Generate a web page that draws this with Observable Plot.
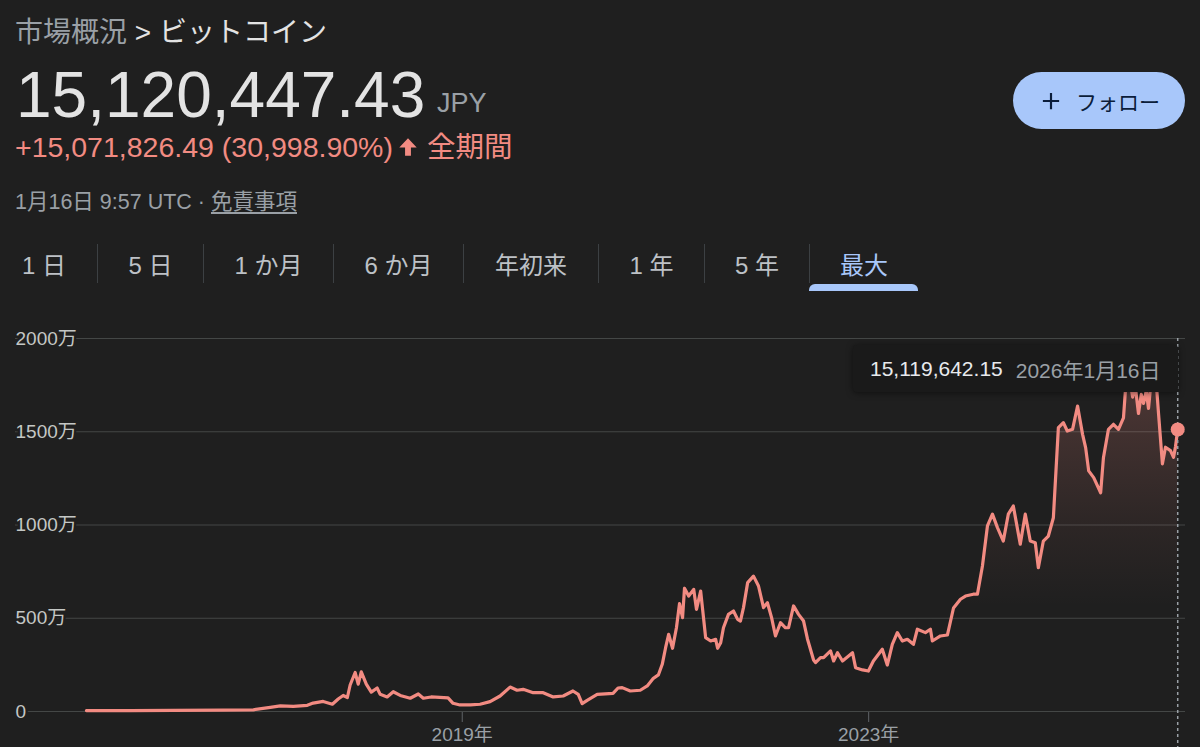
<!DOCTYPE html>
<html lang="ja">
<head>
<meta charset="utf-8">
<script src="https://cdn.jsdelivr.net/npm/d3@7"></script>
<script src="https://cdn.jsdelivr.net/npm/@observablehq/plot@0.6"></script>
<style>
html, body { margin:0; padding:0; background:#1f1f1f; }
body { width:1200px; height:747px; position:relative; overflow:hidden;
  font-family:"Liberation Sans", Arial, "Noto Sans CJK JP", sans-serif; color:#e3e3e3; }
.abs { position:absolute; white-space:nowrap; }
#crumb { left:15px; top:19px; font-size:28px; line-height:28px; color:#e3e3e3; }
#crumb .muted { color:#9aa0a6; }
#price { left:16px; top:63px; font-size:64px; line-height:64px; color:#e3e3e3; }
#cur { left:437px; top:90px; font-size:27px; line-height:27px; color:#9aa0a6; }
#change { left:15px; top:133px; font-size:28.5px; line-height:28.5px; color:#f28b82; display:flex; align-items:center; }
#change svg { margin:0 8px 0 4px; }
#stamp { left:15px; top:192px; font-size:21.5px; line-height:21.5px; color:#9aa0a6; }
#stamp u { text-underline-offset:3px; }
#follow { left:1013px; top:72px; width:172px; height:57px; border-radius:29px; background:#a8c7fa;
  color:#0b1d3a; display:flex; align-items:center; justify-content:center; gap:12px; font-size:21px; }
#tabs { left:-9px; top:244px; height:39px; display:flex; }
.tab { display:flex; align-items:center; justify-content:center; font-size:24px; color:#bdc1c6; box-sizing:border-box; height:39px; }
.tab + .tab { border-left:1px solid #3c4043; }
.tab.active { color:#a8c7fa; }
#underline { left:809px; top:284px; width:109px; height:7px; background:#a8c7fa; border-radius:6px 6px 0 0; }
#chart { left:0; top:315px; }
#chart svg g[aria-label="x-axis"] line, #chart svg g[aria-label="x-axis tick"] path { stroke:#5f6368; }
#tip { left:853px; top:345px; width:325px; height:47px; background:#1a1a1a; box-shadow:0 1px 6px rgba(0,0,0,.5);
  border-radius:4px; display:flex; align-items:center; font-size:21px; box-sizing:border-box; padding-left:17px; }
#tip .v { color:#e8eaed; }
#tip .d { color:#9aa0a6; margin-left:13px; }
</style>
</head>
<body>
<div id="crumb" class="abs"><span class="muted">市場概況</span> &gt; ビットコイン</div>
<div id="price" class="abs">15,120,447.43</div>
<div id="cur" class="abs">JPY</div>
<div id="change" class="abs"><span>+15,071,826.49 (30,998.90%)</span><svg width="22" height="22" viewBox="0 0 24 24"><path fill="#f28b82" d="M12 2.5 L21.5 12.5 H15.2 V21.5 H8.8 V12.5 H2.5 Z"/></svg><span>全期間</span></div>
<div id="stamp" class="abs">1月16日 9:57 UTC · <u>免責事項</u></div>
<div id="follow" class="abs"><svg width="26" height="26" viewBox="0 0 24 24"><path fill="#0b1d3a" d="M19.5 13h-6.5v6.5h-2V13H4.5v-2H11V4.5h2V11h6.5z"/></svg><span>フォロー</span></div>
<div id="tabs" class="abs"></div>
<div id="underline" class="abs"></div>
<div id="chart" class="abs"></div>
<div id="tip" class="abs"><span class="v">15,119,642.15</span><span class="d">2026年1月16日</span></div>

<script>
// ---- data (price in 万円) ----
const dates = [
"2015-04-21","2015-09-26","2016-02-27","2016-08-25","2016-12-11","2017-02-10","2017-03-18","2017-05-04",
"2017-06-23","2017-07-14","2017-08-19","2017-09-21","2017-10-12","2017-10-30","2017-11-14","2017-11-24",
"2017-12-12","2017-12-23","2018-01-03","2018-01-21","2018-02-08","2018-03-01","2018-03-12","2018-04-06",
"2018-04-28","2018-05-23","2018-06-28","2018-07-27","2018-08-14","2018-09-11","2018-11-11","2018-11-29",
"2018-12-24","2019-01-30","2019-03-06","2019-04-11","2019-05-17","2019-06-22","2019-07-17","2019-08-08",
"2019-09-13","2019-10-19","2019-11-24","2019-12-30","2020-02-03","2020-02-22","2020-03-07","2020-03-25",
"2020-04-30","2020-06-26","2020-07-14","2020-07-29","2020-08-27","2020-10-02","2020-10-27","2020-11-18",
"2020-12-06","2020-12-20","2021-01-01","2021-01-12","2021-01-26","2021-02-09","2021-02-20","2021-03-03",
"2021-03-10","2021-03-25","2021-04-12","2021-04-22","2021-05-07","2021-05-25","2021-06-12","2021-06-30",
"2021-07-07","2021-07-18","2021-07-28","2021-08-15","2021-09-02","2021-09-17","2021-09-27","2021-10-08",
"2021-10-23","2021-11-13","2021-12-01","2021-12-19","2022-01-02","2022-01-17","2022-01-31","2022-02-18",
"2022-03-08","2022-03-19","2022-04-06","2022-04-24","2022-05-12","2022-05-26","2022-06-17","2022-06-24",
"2022-07-12","2022-07-23","2022-08-17","2022-08-28","2022-09-11","2022-09-29","2022-11-04","2022-11-15",
"2022-12-10","2022-12-31","2023-01-18","2023-02-19","2023-03-09","2023-03-27","2023-04-14","2023-05-02",
"2023-05-20","2023-06-11","2023-06-25","2023-07-24","2023-08-11","2023-08-18","2023-09-16","2023-10-11",
"2023-11-02","2023-11-27","2023-12-15","2024-01-12","2024-01-27","2024-02-14","2024-03-03","2024-03-21",
"2024-04-08","2024-04-29","2024-05-17","2024-06-04","2024-06-29","2024-07-17","2024-08-04","2024-08-22",
"2024-09-02","2024-09-20","2024-10-08","2024-10-26","2024-11-13","2024-12-01","2024-12-15","2025-01-03",
"2025-01-21","2025-02-08","2025-02-19","2025-03-02","2025-03-20","2025-04-14","2025-04-24","2025-05-12",
"2025-05-30","2025-06-17","2025-07-05","2025-07-12","2025-07-20","2025-07-30","2025-08-07","2025-08-16",
"2025-08-28","2025-09-07","2025-09-15","2025-09-25","2025-10-03","2025-10-13","2025-10-21","2025-10-31",
"2025-11-08","2025-11-22","2025-12-03","2025-12-21","2026-01-01","2026-01-08","2026-01-16"
];
const prices = [
4.9,5,5.5,7,9,22,30,27,
33,45,54,39,67,86,75,142,
209,147,213,147,104,126,92,78,
106,86,71,94,71,78,73,44,
35,36,39,53,83,131,114,119,
101,101,78,83,110,92,42,60,
92,97,126,128,110,114,137,178,
196,253,342,414,339,449,578,503,
661,619,655,548,646,396,378,387,
339,369,449,521,539,494,485,557,
691,726,673,557,583,503,405,476,
449,449,566,521,485,389,276,262,
289,289,325,271,315,271,315,235,
223,217,271,334,249,360,423,378,
387,360,441,423,441,378,405,410,
555,602,619,629,629,780,995,1058,
986,914,1058,1102,897,1058,914,905,
771,914,941,1039,1522,1549,1504,1513,
1638,1486,1415,1290,1254,1173,1361,1513,
1540,1513,1575,1720,1790,1760,1686,1750,
1598,1700,1652,1720,1625,1780,1870,1760,
1598,1328,1417,1399,1363,1420,1512.04
];
const yTicks = [0, 500, 1000, 1500, 2000];
const xTickYears = [2019, 2023];
const tabLabels = ["1 日", "5 日", "1 か月", "6 か月", "年初来", "1 年", "5 年", "最大"];
const activeTab = "最大";

// ---- tabs ----
const tabWidths = [106, 106, 130, 130, 135, 106, 105, 109];
const tabsEl = document.getElementById("tabs");
tabLabels.forEach((t, i) => {
  const el = document.createElement("div");
  el.className = "tab" + (t === activeTab ? " active" : "");
  el.style.width = tabWidths[i] + "px";
  el.textContent = t;
  tabsEl.appendChild(el);
});

// ---- chart ----
const lineColor = "#f28b82";
const data = dates.map((d, i) => ({date: new Date(d + "T00:00:00Z"), value: prices[i]}));
const last = data[data.length - 1];

const chart = Plot.plot({
  width: 1200,
  height: 432,
  marginTop: 23,
  marginBottom: 36,
  marginLeft: 15,
  marginRight: 15,
  style: {background: "transparent", color: "#9aa0a6", fontSize: "19px",
    fontFamily: "'Liberation Sans', Arial, 'Noto Sans CJK JP', sans-serif", overflow: "visible"},
  x: {
    type: "utc",
    domain: [new Date("2014-08-09T00:00:00Z"), new Date("2026-02-13T00:00:00Z")],
    ticks: xTickYears.map(y => new Date(Date.UTC(y, 0, 1))),
    tickFormat: d => `${d.getUTCFullYear()}年`,
    tickSize: 11,
    tickPadding: 5,
    label: null
  },
  y: {domain: [0, 2000], axis: null},
  marks: [
    Plot.ruleY(yTicks, {stroke: "#444746", strokeWidth: 1}),
    Plot.areaY(data, {x: "date", y: "value", fill: "url(#btcFill)"}),
    Plot.line(data, {x: "date", y: "value", stroke: lineColor, strokeWidth: 3.2, strokeLinejoin: "round", strokeLinecap: "round"}),
    Plot.text(yTicks, {y: d => d, text: d => d === 0 ? "0" : `${d}万`, frameAnchor: "left", textAnchor: "start",
      fill: "#c4c7c5", stroke: "#1f1f1f", strokeWidth: 5, paintOrder: "stroke", fontSize: 19}),
    Plot.ruleX([last], {x: "date", stroke: "#9aa0a6", strokeWidth: 1.5, strokeDasharray: "3,3", insetBottom: -36}),
    Plot.dot([last], {x: "date", y: "value", r: 7, fill: lineColor})
  ]
});

const svg = chart.tagName.toLowerCase() === "svg" ? chart : chart.querySelector("svg");
const ns = "http://www.w3.org/2000/svg";
const defs = document.createElementNS(ns, "defs");
const grad = document.createElementNS(ns, "linearGradient");
grad.setAttribute("id", "btcFill");
grad.setAttribute("x1", "0"); grad.setAttribute("y1", "0");
grad.setAttribute("x2", "0"); grad.setAttribute("y2", "1");
[[0, 0.24], [0.45, 0.07], [0.7, 0]].forEach(([o, a]) => {
  const s = document.createElementNS(ns, "stop");
  s.setAttribute("offset", o);
  s.setAttribute("stop-color", lineColor);
  s.setAttribute("stop-opacity", a);
  grad.appendChild(s);
});
defs.appendChild(grad);
svg.insertBefore(defs, svg.firstChild);
document.getElementById("chart").appendChild(chart);
</script>
</body>
</html>
